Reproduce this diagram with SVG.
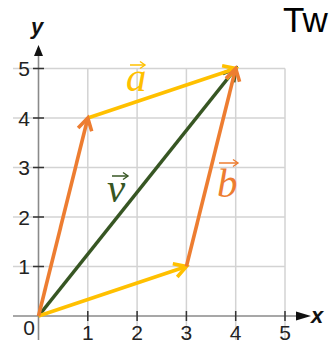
<svg xmlns="http://www.w3.org/2000/svg" width="330" height="340" viewBox="0 0 330 340">
<style>
.grid{stroke:#d3d3d3;stroke-width:1.5;fill:none}
.axis{stroke:#8a8a8a;stroke-width:1.6;fill:none}
.tick{stroke:#333;stroke-width:1.5}
.num{font-family:"Liberation Sans",Arial,sans-serif;font-size:21px;fill:#222}
.axl{font-family:"Liberation Sans",Arial,sans-serif;font-size:22px;font-weight:bold;font-style:italic;fill:#111}
.vec{stroke-width:3.6;fill:none}
.lab{font-family:"Liberation Serif","Times New Roman",serif;font-style:italic;font-size:41px}
.small{stroke-width:1.5;fill:none}
</style>
<defs>
<marker id="mY" viewBox="-16 -10 22 20" refX="0" refY="0" markerWidth="22" markerHeight="20" markerUnits="userSpaceOnUse" orient="auto"><path d="M-12,-7 L0,0 L-12,7" fill="none" stroke="#FFC000" stroke-width="3.6"/></marker>
<marker id="mO" viewBox="-16 -10 22 20" refX="0" refY="0" markerWidth="22" markerHeight="20" markerUnits="userSpaceOnUse" orient="auto"><path d="M-12,-7 L0,0 L-12,7" fill="none" stroke="#ED7D31" stroke-width="3.6"/></marker>
<marker id="mG" viewBox="-16 -10 22 20" refX="0" refY="0" markerWidth="22" markerHeight="20" markerUnits="userSpaceOnUse" orient="auto"><path d="M-12,-7 L0,0 L-12,7" fill="none" stroke="#375623" stroke-width="3.6"/></marker>
<marker id="sY" viewBox="-8 -5 10 10" refX="0" refY="0" markerWidth="10" markerHeight="10" markerUnits="userSpaceOnUse" orient="auto"><path d="M-5,-3.5 L0,0 L-5,3.5" fill="none" stroke="#FFC000" stroke-width="1.4"/></marker>
<marker id="sO" viewBox="-8 -5 10 10" refX="0" refY="0" markerWidth="10" markerHeight="10" markerUnits="userSpaceOnUse" orient="auto"><path d="M-5,-3.5 L0,0 L-5,3.5" fill="none" stroke="#ED7D31" stroke-width="1.4"/></marker>
<marker id="sG" viewBox="-8 -5 10 10" refX="0" refY="0" markerWidth="10" markerHeight="10" markerUnits="userSpaceOnUse" orient="auto"><path d="M-5,-3.5 L0,0 L-5,3.5" fill="none" stroke="#375623" stroke-width="1.4"/></marker>
</defs>
<rect width="330" height="340" fill="#fff"/>
<text x="283" y="32" font-family="'Liberation Sans',Arial,sans-serif" font-size="35" fill="#000">Tw</text>
<g id="grid">
<path class="grid" d="M13,266.5H285M13,217H285M13,167.5H285M13,118H285M13,68.5H285"/>
<path class="grid" d="M87.8,68.5V340M137.1,68.5V340M186.4,68.5V340M235.7,68.5V340M285,68.5V340"/>
</g>
<g id="axes">
<path class="axis" d="M38.5,340V50M13,316H300"/>
<path d="M38.5,45L34,56H43Z" fill="#111"/>
<path d="M311,316L296,311.5V320.5Z" fill="#111"/>
<path class="tick" d="M33,266.5H44M33,217H44M33,167.5H44M33,118H44M33,68.5H44M87.8,311V321M137.1,311V321M186.4,311V321M235.7,311V321M285,311V321"/>
<text class="axl" x="31" y="34">y</text>
<text class="axl" x="311" y="323">x</text>
<g class="num" text-anchor="middle">
<text x="24" y="274">1</text><text x="24" y="224.5">2</text><text x="24" y="175">3</text><text x="24" y="125.5">4</text><text x="24" y="76">5</text>
<text x="29" y="335">0</text>
<text x="87.8" y="340">1</text><text x="137.1" y="340">2</text><text x="186.4" y="340">3</text><text x="235.7" y="340">4</text><text x="285" y="340">5</text>
</g>
</g>
<g id="connectors">
<line id="v" class="vec" x1="38.5" y1="316" x2="235.7" y2="68.5" stroke="#375623" marker-end="url(#mG)"/>
<line id="a1" class="vec" x1="38.5" y1="316" x2="186.4" y2="266.5" stroke="#FFC000" marker-end="url(#mY)"/>
<line id="a2" class="vec" x1="87.8" y1="118" x2="235.7" y2="68.5" stroke="#FFC000" marker-end="url(#mY)"/>
<line id="b1" class="vec" x1="38.5" y1="316" x2="87.8" y2="118" stroke="#ED7D31" marker-end="url(#mO)"/>
<line id="b2" class="vec" x1="186.4" y1="266.5" x2="235.7" y2="68.5" stroke="#ED7D31" marker-end="url(#mO)"/>
</g>
<g id="label-a">
<text class="lab" x="126" y="91" fill="#FFC000">a</text>
<line class="small" x1="130" y1="65" x2="145" y2="65" stroke="#FFC000" marker-end="url(#sY)"/>
</g>
<g id="label-v">
<text class="lab" x="107" y="202" fill="#375623">v</text>
<line class="small" x1="112" y1="176" x2="128" y2="176" stroke="#375623" marker-end="url(#sG)"/>
</g>
<g id="label-b">
<text class="lab" x="217" y="197" fill="#ED7D31">b</text>
<line class="small" x1="219" y1="163" x2="238" y2="163" stroke="#ED7D31" marker-end="url(#sO)"/>
</g>
</svg>
